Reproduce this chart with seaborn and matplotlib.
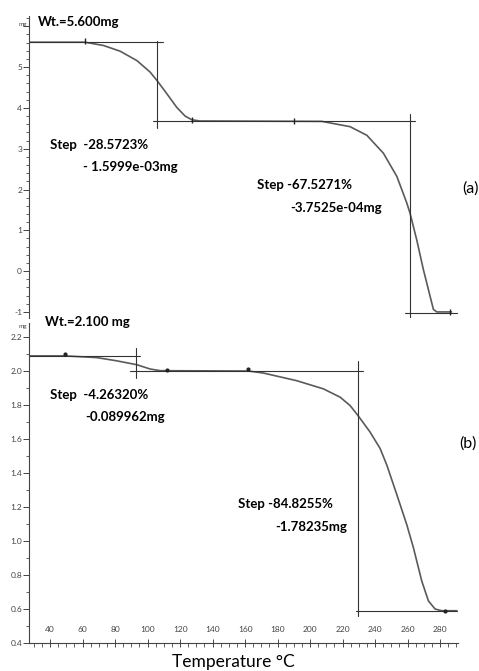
import numpy as np
import pandas as pd
import matplotlib
matplotlib.use("Agg")
import matplotlib.pyplot as plt
import seaborn as sns
from matplotlib.ticker import MultipleLocator, FormatStrFormatter

# TGA curve (a): temperature (C) and mass (mg)
temp_a = [27, 61.5, 72.8, 83.1, 93.4, 101.5, 106.0, 111.8, 118.0, 123.1, 127.2, 132,
          207.2, 224.6, 234.9, 245.1, 253.4, 259.5, 261.5, 265.6, 269.7, 273.8, 275.9,
          278, 287]
mass_a = [5.61, 5.61, 5.53, 5.39, 5.16, 4.88, 4.66, 4.35, 4.01, 3.80, 3.71, 3.68,
          3.67, 3.54, 3.33, 2.89, 2.32, 1.67, 1.42, 0.77, 0.04, -0.61, -0.94,
          -1.0, -1.0]

# TGA curve (b)
temp_b = [27, 49.2, 68.7, 81.0, 93.4, 101.5, 107.7, 162.0, 171.3, 191.8, 208.2,
          218.5, 224.6, 229.4, 236.9, 243.1, 247.2, 253.4, 259.5, 263.6, 268.7,
          272.8, 276.9, 281.0, 290.3]
mass_b = [2.089, 2.089, 2.079, 2.060, 2.037, 2.012, 2.002, 2.0, 1.988, 1.943, 1.895,
          1.846, 1.797, 1.739, 1.641, 1.544, 1.447, 1.272, 1.096, 0.960, 0.765,
          0.648, 0.600, 0.590, 0.590]

# step construction lines: (x0, x1, y0, y1)
lines_a = [(27, 109.5, 5.61, 5.61), (106.0, 106.0, 5.65, 3.5), (103.4, 264.6, 3.67, 3.67),
           (261.5, 261.5, 3.85, -1.25), (258.5, 290.5, -1.02, -1.02)]
lines_b = [(27, 95.4, 2.089, 2.089), (92.9, 92.9, 2.135, 1.96), (89, 232.6, 2.0, 2.0),
           (229.4, 229.4, 2.06, 0.56), (228.0, 290.7, 0.587, 0.587)]

# event marks on the curves
marks_a_t = [61.5, 127.2, 190, 286]
marks_a_m = [5.63, 3.70, 3.69, -1.0]
marks_b_t = [49.2, 112, 162, 283]
marks_b_m = [2.103, 2.008, 2.012, 0.59]

# y tick labels
yticks_a = [-1, 0, 1, 2, 3, 4, 5, 6]
ylabels_a = ["-1", "0", "1", "2", "3", "4", "5", ""]
xticks_b = [40, 60, 80, 100, 120, 140, 160, 180, 200, 220, 240, 260, 280]

sns.set_style("white")
plt.rcParams['font.family'] = ['Lato', 'DejaVu Sans']

fig = plt.figure(figsize=(4.79, 6.71), dpi=100)
ax1 = fig.add_axes([0.0605, 0.526, 0.8956, 0.450])
ax2 = fig.add_axes([0.0605, 0.0417, 0.8956, 0.4763])

curve_col = "#5a5a5a"
line_col = "#333333"

df_a = pd.DataFrame({"T": temp_a, "m": mass_a})
df_b = pd.DataFrame({"T": temp_b, "m": mass_b})
sns.lineplot(data=df_a, x="T", y="m", ax=ax1, color=curve_col, lw=1.2, sort=False)
sns.lineplot(data=df_b, x="T", y="m", ax=ax2, color=curve_col, lw=1.2, sort=False)

for ax, lines in [(ax1, lines_a), (ax2, lines_b)]:
    for x0, x1, y0, y1 in lines:
        ax.plot([x0, x1], [y0, y1], color=line_col, lw=0.8)

ax1.plot(marks_a_t, marks_a_m, ls="none", marker="|", ms=4, color="#222222")
ax2.plot(marks_b_t, marks_b_m, ls="none", marker=".", ms=4, color="#222222")

for ax in (ax1, ax2):
    ax.set_xlim(27, 291)
    for s in ["top", "right"]:
        ax.spines[s].set_visible(False)
    ax.spines["left"].set_color("#444444")
    ax.spines["left"].set_linewidth(0.8)
    ax.set_xlabel("")
    ax.set_ylabel("")
    ax.tick_params(axis="y", which="major", direction="out", length=4, width=0.7,
                   labelsize=6, colors="#444444", pad=1, left=True)
    ax.tick_params(axis="y", which="minor", direction="out", length=2.5, width=0.6,
                   colors="#444444", left=True)

ax1.set_ylim(-1.15, 6.25)
ax1.set_yticks(yticks_a, ylabels_a)
ax1.yaxis.set_minor_locator(MultipleLocator(0.2))
ax1.spines["bottom"].set_visible(False)
ax1.set_xticks([])

ax2.set_ylim(0.4, 2.28)
ax2.yaxis.set_major_locator(MultipleLocator(0.2))
ax2.yaxis.set_minor_locator(MultipleLocator(0.1))
ax2.yaxis.set_major_formatter(FormatStrFormatter("%.1f"))
ax2.spines["bottom"].set_color("#444444")
ax2.spines["bottom"].set_linewidth(0.8)
ax2.set_xticks(xticks_b)
ax2.xaxis.set_minor_locator(MultipleLocator(5))
ax2.tick_params(axis="x", which="major", direction="inout", length=6, width=0.7,
                labelsize=6, colors="#444444", pad=-15, bottom=True)
ax2.tick_params(axis="x", which="minor", direction="out", length=3, width=0.6,
                colors="#444444", bottom=True)

txt = dict(fontsize=9.5, color="black", va="center", ha="left", fontweight="bold")
lab = dict(fontsize=11.5, color="black", va="center", ha="left", clip_on=False)
ax1.text(32.5, 6.10, "Wt.=5.600mg", clip_on=False, **txt)
ax1.text(25.5, 6.05, "mg", fontsize=4.5, ha="right", va="center", color="#444444")
ax1.text(40, 3.09, "Step  -28.5723%", **txt)
ax1.text(60.2, 2.55, "- 1.5999e-03mg", **txt)
ax1.text(167.3, 2.11, "Step -67.5271%", **txt)
ax1.text(187.6, 1.54, "-3.7525e-04mg", **txt)
ax1.text(293.5, 2.03, "(a)", **lab)

ax2.text(36.8, 2.288, "Wt.=2.100 mg", clip_on=False, **txt)
ax2.text(25.5, 2.26, "mg", fontsize=4.5, ha="right", va="center", color="#444444")
ax2.text(40, 1.859, "Step  -4.26320%", **txt)
ax2.text(61.5, 1.73, "-0.089962mg", **txt)
ax2.text(292, 1.576, "(b)", **lab)
ax2.text(155.6, 1.218, "Step -84.8255%", **txt)
ax2.text(178.4, 1.082, "-1.78235mg", **txt)

fig.text(0.487, 0.013, "Temperature \u00b0C", fontsize=12.5, ha="center", va="center",
         color="black")

fig.savefig("out.png", dpi=100)
